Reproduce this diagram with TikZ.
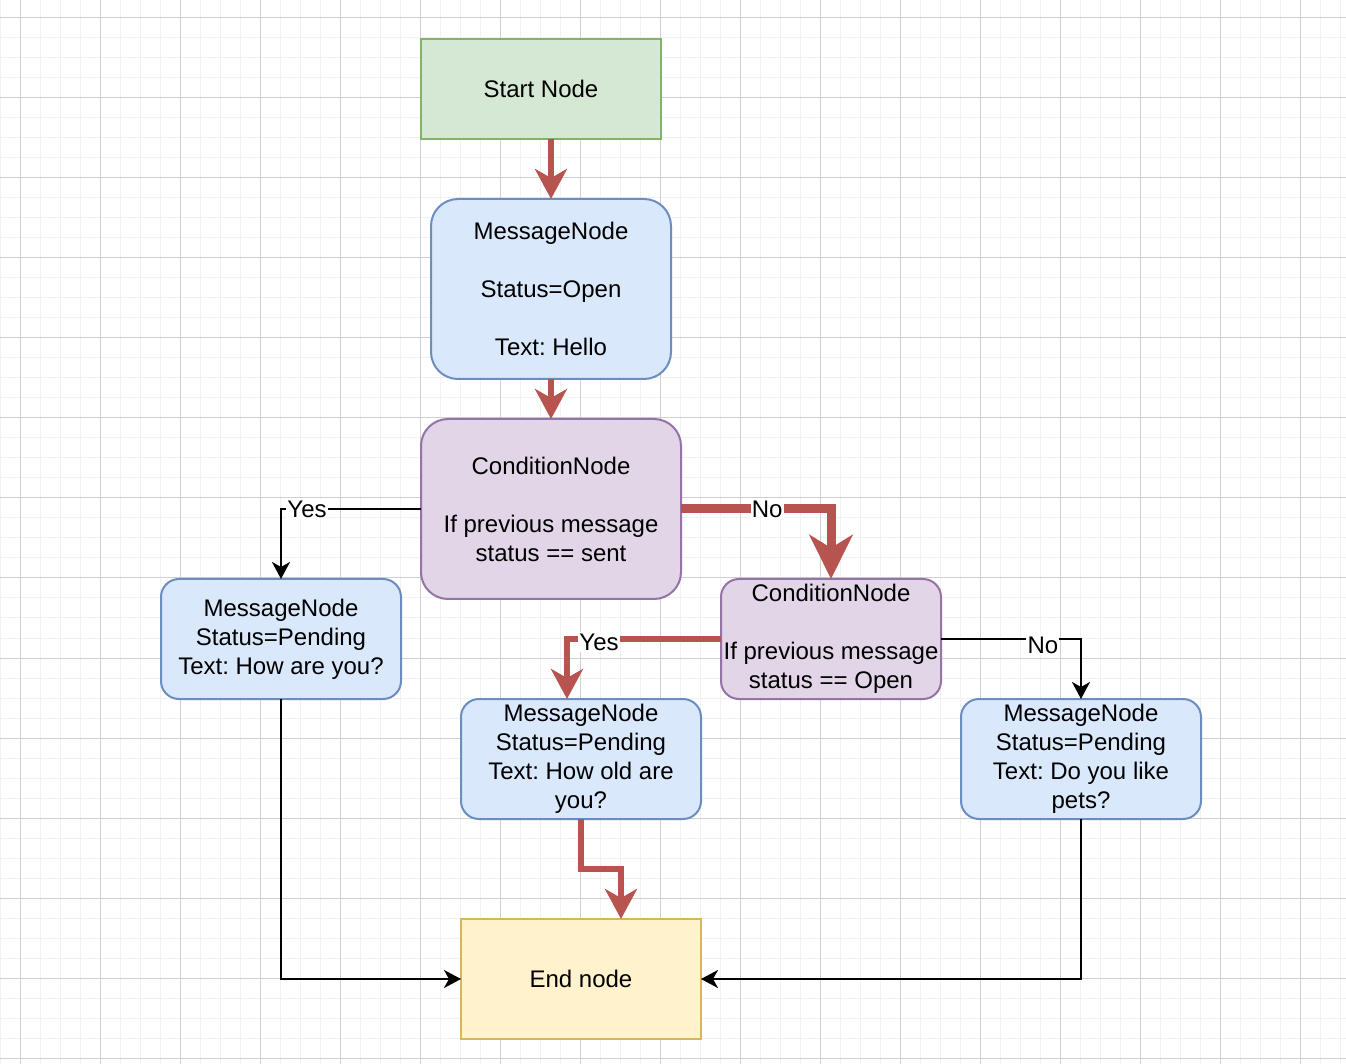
\documentclass[tikz,border=0pt]{standalone}
\usepackage{fontspec}
\setmainfont{Liberation Sans}
\usetikzlibrary{arrows.meta}
\frenchspacing

\definecolor{flowred}{HTML}{B85450}
\definecolor{startfill}{HTML}{D5E8D4}
\definecolor{startline}{HTML}{82B366}
\definecolor{msgfill}{HTML}{DAE8FC}
\definecolor{msgline}{HTML}{6C8EBF}
\definecolor{condfill}{HTML}{E1D5E7}
\definecolor{condline}{HTML}{9673A6}
\definecolor{endfill}{HTML}{FFF2CC}
\definecolor{endline}{HTML}{D6B656}
\definecolor{gridminor}{HTML}{F1F1F1}
\definecolor{gridmajor}{HTML}{D0D0D0}

\tikzset{
  box/.style={draw, line width=1pt, align=center, inner sep=0pt, outer sep=0pt,
    font=\fontsize{12}{14.5}\selectfont\frenchspacing, text=black},
  startbox/.style={box, fill=startfill, draw=startline, minimum width=120pt, minimum height=50pt},
  msgbox/.style={box, fill=msgfill, draw=msgline, rounded corners=9pt, minimum width=120pt, minimum height=60pt},
  bigmsgbox/.style={msgbox, rounded corners=13.5pt, minimum height=90pt},
  condbox/.style={box, fill=condfill, draw=condline, rounded corners=9pt, minimum width=110pt, minimum height=60pt},
  bigcondbox/.style={condbox, rounded corners=13.5pt, minimum width=130pt, minimum height=90pt},
  endbox/.style={box, fill=endfill, draw=endline, minimum width=120pt, minimum height=60pt},
  redflow/.style={draw=flowred, line width=3pt,
    -{Stealth[length=15pt, width=16pt, inset=4.5pt, fill=flowred]}},
  redflowwide/.style={draw=flowred, line width=4.5pt,
    -{Stealth[length=22pt, width=21.5pt, inset=6.5pt, fill=flowred]}},
  blackflow/.style={draw=black, line width=1pt,
    -{Stealth[length=8.5pt, width=9pt, inset=2.5pt]}},
  lbl/.style={fill=white, inner sep=0.6pt, font=\fontsize{12}{14.5}\selectfont, text=black},
}

\begin{document}
\begin{tikzpicture}[x=0.5pt, y=-0.5pt]
  \useasboundingbox (0,0) rectangle (1346,1064);
  \fill[white] (0,0) rectangle (1346,1064);

  % background grid
  \begin{scope}
    \clip (0,0) rectangle (1346,1064);
    \foreach \gx in {0,20,...,1340} \draw[gridminor, line width=0.5pt] (\gx,0) -- (\gx,1064);
    \foreach \gy in {-2,18,...,1058} \draw[gridminor, line width=0.5pt] (0,\gy) -- (1346,\gy);
    \foreach \gx in {20,100,...,1340} \draw[gridmajor, line width=0.5pt] (\gx,0) -- (\gx,1064);
    \foreach \gy in {18,98,...,1058} \draw[gridmajor, line width=0.5pt] (0,\gy) -- (1346,\gy);
  \end{scope}

  % nodes
  \node[startbox] (start) at (541,89) {Start Node};
  \node[bigmsgbox] (hello) at (551,289) {MessageNode\\[14.5pt]Status=Open\\[14.5pt]Text: Hello};
  \node[bigcondbox] (sent) at (551,509) {ConditionNode\\[14.5pt]If previous message\\status == sent};
  \node[msgbox] (howare) at (281,639) {MessageNode\\Status=Pending\\Text: How are you?};
  \node[condbox] (open) at (831,639) {ConditionNode\\[14.5pt]If previous message\\status == Open};
  \node[msgbox] (howold) at (581,759) {MessageNode\\Status=Pending\\Text: How old are\\you?};
  \node[msgbox] (pets) at (1081,759) {MessageNode\\Status=Pending\\Text: Do you like\\pets?};
  \node[endbox] (endn) at (581,979) {End node};

  % connectors
  \draw[redflow] (hello.north |- start.south) -- (hello.north);
  \draw[redflow] (hello.south) -- (sent.north);

  \draw[blackflow] (sent.west) -| node[lbl, pos=0.407] {Yes} (howare.north);
  \draw[redflowwide] (sent.east) -| node[lbl, pos=0.287] {No} (open.north);

  \draw[redflow] (open.west) -| node[lbl, pos=0.396, yshift=-1.5pt] {Yes} ([xshift=-7pt]howold.north);
  \draw[blackflow] (open.east) -| node[lbl, pos=0.364, yshift=-3pt] {No} (pets.north);

  \coordinate (oldturn) at (581,869);
  \draw[redflow] (howold.south) -- (oldturn) -| ([xshift=20pt]endn.north);

  \draw[blackflow] (howare.south) |- (endn.west);
  \draw[blackflow] (pets.south) |- (endn.east);
\end{tikzpicture}
\end{document}
